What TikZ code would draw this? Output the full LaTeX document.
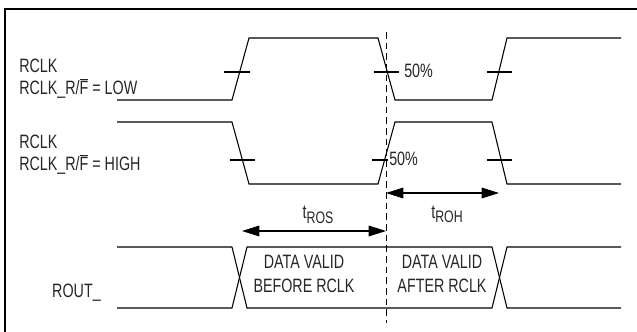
\documentclass[tikz,border=0pt]{standalone}
\usepackage{fontspec}
\setmainfont{Liberation Sans}[FakeStretch=0.74]
\usetikzlibrary{arrows.meta}

\newcommand{\tsub}[1]{t\raisebox{-0.45ex}{\fontsize{12.5}{12.5}\selectfont #1}}

\tikzset{
    wave/.style={line width=0.8pt, line join=miter},
    tickmark/.style={line width=0.8pt},
    timing/.style={line width=0.8pt,
        {Triangle[length=13pt,width=8pt]}-{Triangle[length=13pt,width=8pt]}},
    lbl/.style={font=\fontsize{14.5}{16.5}\selectfont, inner sep=0pt, text=black!85},
}

\begin{document}
\begin{tikzpicture}[x=0.75pt,y=-0.75pt]
    \useasboundingbox (0,0) rectangle (637,332);
    \clip (0,0) rectangle (637,332);
    \draw[line width=2pt] (5,9) rectangle (660,360);

    % RCLK_R/F = LOW
    \draw[wave] (117,100) -- (232,100) -- (249,38) -- (378,38) -- (395,100)
        -- (492,100) -- (507,38) -- (621,38);
    \draw[tickmark] (224,72) -- (250,72);
    \draw[tickmark] (374,72) -- (399,72);
    \draw[tickmark] (487,72) -- (512,72);

    % RCLK_R/F = HIGH
    \draw[wave] (117,122) -- (232,122) -- (249,184) -- (378,184) -- (395,122)
        -- (492,122) -- (507,184) -- (621,184);
    \draw[tickmark] (230,160) -- (255,160);
    \draw[tickmark] (372,160) -- (388,160);
    \draw[tickmark] (487,160) -- (512,160);

    % ROUT_
    \draw[wave] (117,247) -- (232,247) -- (247,308) -- (492,308) -- (507,247) -- (621,247);
    \draw[wave] (117,308) -- (232,308) -- (247,247) -- (492,247) -- (507,308) -- (621,308);

    \node[lbl, anchor=base west, align=left] (rclkLow) at (19,94)
        {RCLK\\RCLK\_R/$\overline{\mbox{F}}$ = LOW};
    \node[lbl, anchor=base west, align=left] (rclkHigh) at (19,170)
        {RCLK\\RCLK\_R/$\overline{\mbox{F}}$ = HIGH};
    \node[lbl, anchor=base east] (rout) at (101,297) {ROUT\_};

    \node[lbl, anchor=base west] (pctLow) at (404,78) {50\%};
    \node[lbl, anchor=base west] (pctHigh) at (389,166) {50\%};

    % 50% reference line
    \coordinate (cutTop) at (386,32);
    \coordinate (cutBot) at (386,323);
    \draw[line width=0.6pt, dash pattern=on 5pt off 3pt] (cutTop) -- (cutBot);

    % setup and hold
    \coordinate (rohL) at (386,193);
    \coordinate (rohR) at (499,193);
    \draw[timing] (rohL) -- (rohR);
    \node[lbl, anchor=base] (troh) at (447,218) {\tsub{ROH}};

    \coordinate (rosL) at (242,231);
    \coordinate (rosR) at (386,231);
    \draw[timing] (rosL) -- (rosR);
    \node[lbl, anchor=base] (tros) at (318,219) {\tsub{ROS}};

    \node[lbl, anchor=base, align=center] (before) at (304,292)
        {DATA VALID\\[1.5pt]BEFORE RCLK};
    \node[lbl, anchor=base, align=center] (after) at (442,292)
        {DATA VALID\\[1.5pt]AFTER RCLK};
\end{tikzpicture}
\end{document}
